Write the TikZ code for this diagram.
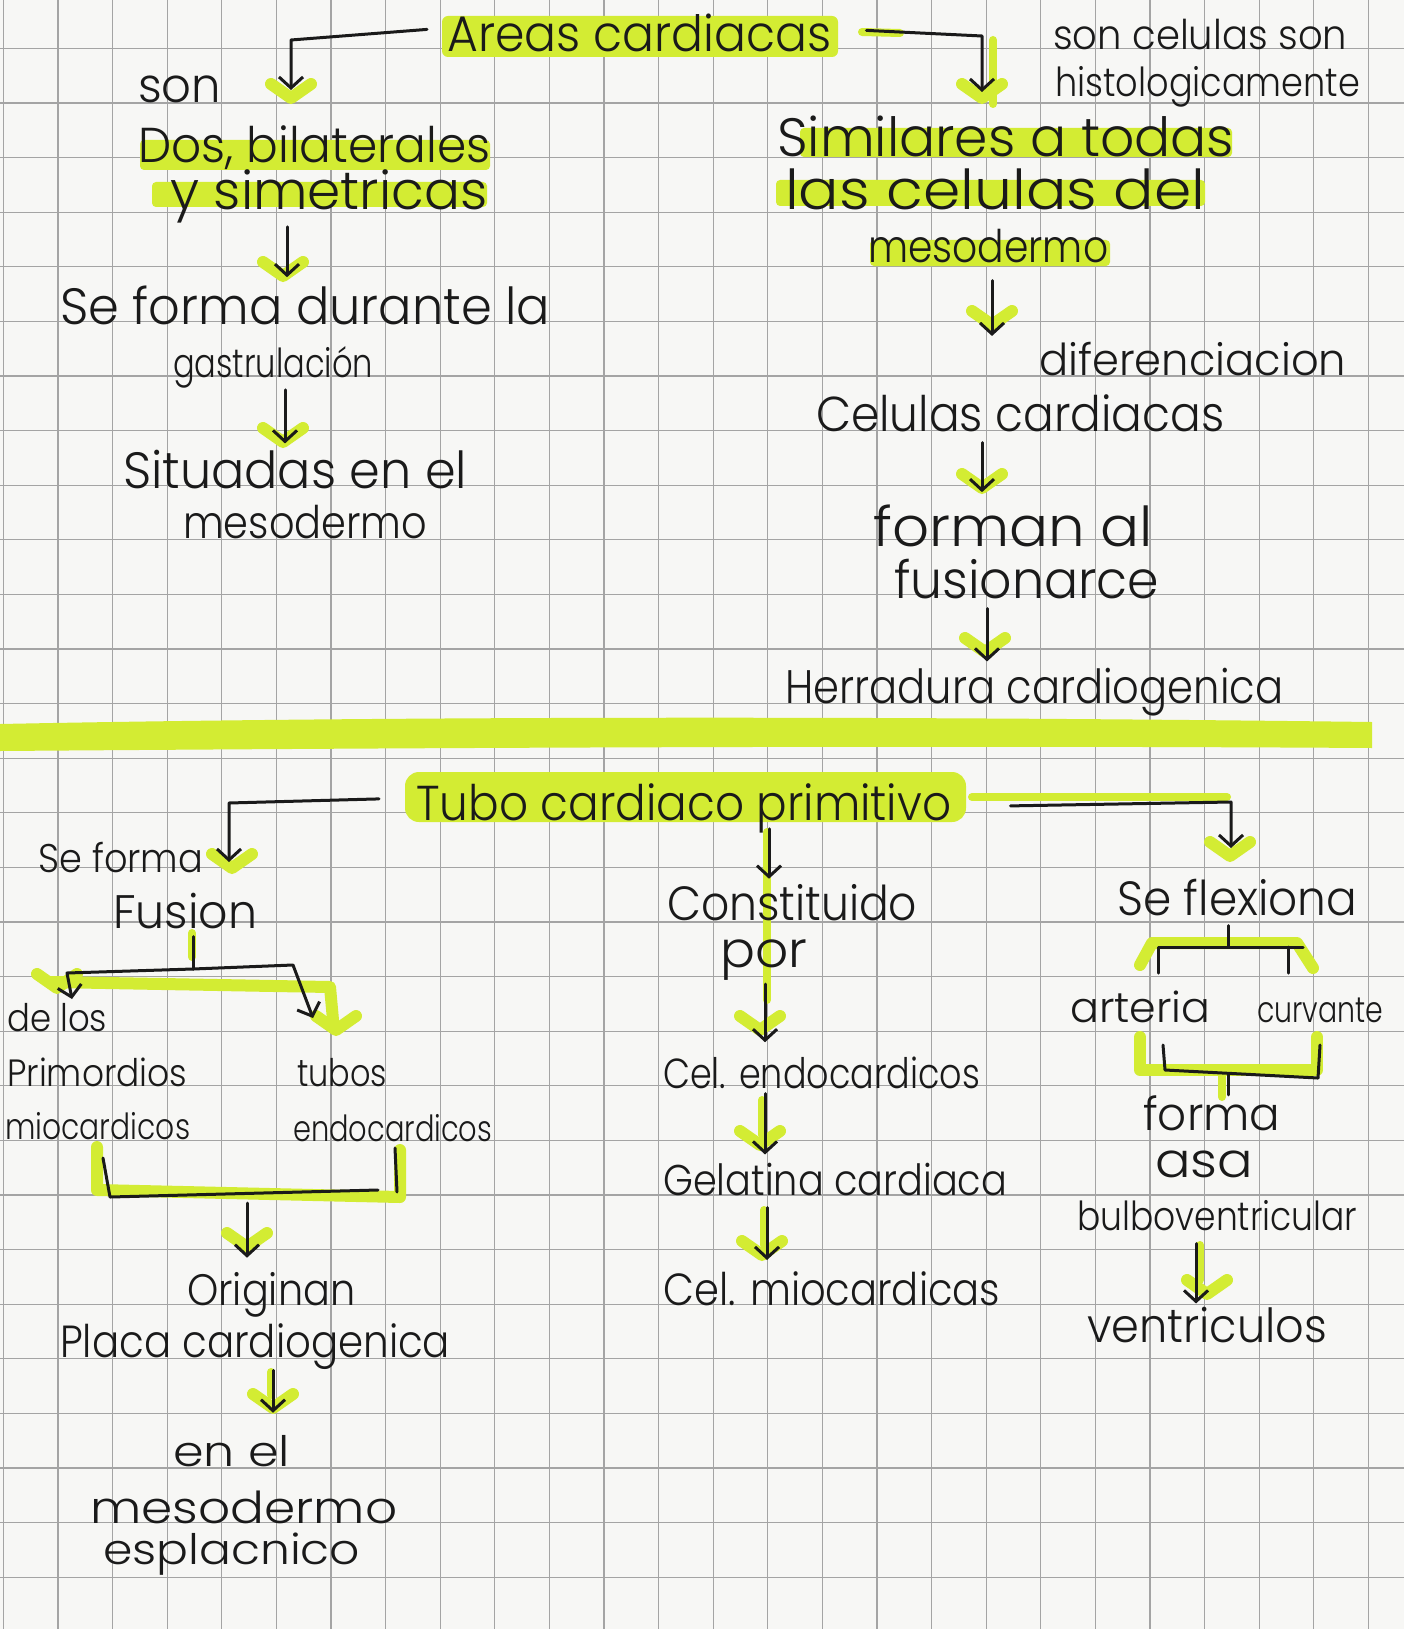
\documentclass[tikz,border=0pt]{standalone}
\usepackage{graphicx}
\usepackage{fontspec}
\IfFontExistsTF{Poppins Light}{\setmainfont{Poppins Light}}{\setmainfont{Poppins}}
\usetikzlibrary{arrows.meta}
\definecolor{hlc}{HTML}{D3EC33}
\definecolor{ink}{HTML}{1A1A1A}
\definecolor{gridc}{HTML}{A4A4A4}
\definecolor{paper}{HTML}{F7F7F5}
\newcommand{\hw}[2]{\resizebox{#1pt}{\height}{#2}}
\newcommand{\gchev}[2]{\draw[hlpen] ({#1-20},{#2-14}) -- (#1,#2) -- ({#1+20},{#2-14});}
\begin{document}
\begin{tikzpicture}[x=1pt,y=-1pt,
  txt/.style={anchor=base west, inner sep=0pt, text=ink, font=\fontsize{50}{60}\selectfont},
  fs/.style={font=\fontsize{#1}{#1}\selectfont},
  gridl/.style={draw=gridc, line width=1.3pt},
  inkline/.style={draw=ink, line width=3pt, line cap=round, line join=round},
  arr/.style={inkline, -{Straight Barb[length=11pt,width=24pt]}},
  hlpen/.style={draw=hlc, line width=12pt, line cap=round, line join=round},
  hlthin/.style={draw=hlc, line width=8pt, line cap=round, line join=round}]
\fill[paper] (0,0) rectangle (1404,1629);
\useasboundingbox (0,0) rectangle (1404,1629);
% grid paper
\foreach \i in {0,...,25} {\draw[gridl] ({3.4+54.6*\i},0) -- ({3.4+54.6*\i},1629);}
\foreach \j in {0,...,29} {\draw[gridl] (0,{48.4+54.6*\j}) -- (1404,{48.4+54.6*\j});}

% highlighter marks
\fill[hlc, rounded corners=6pt] (442,16) rectangle (838,57);
\fill[hlc, rounded corners=4pt] (140,140) rectangle (490,170);
\fill[hlc, rounded corners=4pt] (152,182) rectangle (487,207);
\fill[hlc, rounded corners=4pt] (800,128) rectangle (1232,157);
\fill[hlc, rounded corners=4pt] (776,180) rectangle (1205,206);
\fill[hlc, rounded corners=4pt] (870,240) rectangle (1110,266);
\fill[hlc] (0,724) .. controls (400,716) and (900,716) .. (1372,722) -- (1372,748) .. controls (900,745) and (400,748) .. (0,751) -- cycle;
\fill[hlc, rounded corners=14pt] (405,772) rectangle (966,822);
\draw[hlthin] (862,32) -- (900,33);
\draw[hlthin] (993,40) -- (993,104);
\draw[hlthin] (972,797) -- (1227,797);
\draw[hlthin] (767,832) -- (767,1000);
\draw[hlthin] (192,933) -- (192,957);
\draw[hlpen] (50,982) -- (330,987) -- (333,1020);
\draw[hlpen] (97,1147) -- (97,1190) -- (400,1197) -- (400,1150);
\draw[hlthin] (271,1372) -- (271,1395);
\draw[hlthin] (762,1100) -- (762,1135);
\draw[hlthin] (764,1210) -- (764,1245);
\draw[hlpen] (1140,965) -- (1152,943) -- (1297,943) -- (1313,968);
\draw[hlpen] (1140,1037) -- (1140,1070) -- (1317,1070) -- (1317,1037);
\draw[hlthin] (1222,1072) -- (1222,1097);
\draw[hlthin] (1200,1245) -- (1200,1280);
\gchev{291}{98}
\gchev{982}{98}
\gchev{283}{276}
\gchev{283}{442}
\gchev{992}{325}
\gchev{982}{488}
\gchev{985}{652}
\gchev{232}{868}
\gchev{1230}{856}
\gchev{57}{988}
\gchev{336}{1030}
\gchev{247}{1247}
\gchev{273}{1408}
\gchev{760}{1030}
\gchev{760}{1145}
\gchev{762}{1255}
\gchev{1207}{1294}

% texts
\node[txt, fs=50] (title) at (447,52) {\hw{384}{Areas cardiacas}};
\node[txt, fs=41] (sonc) at (1053,50) {\hw{294}{son celulas son}};
\node[txt, fs=40] (histo) at (1055,97) {\hw{305}{histologicamente}};
\node[txt, fs=48] (son) at (138,103) {\hw{83}{son}};
\node[txt, fs=49] (dos) at (138,163) {\hw{352}{Dos, bilaterales}};
\node[txt, fs=53] (sim) at (170,210) {\hw{317}{y simetricas}};
\node[txt, fs=51] (sef) at (60,324) {\hw{490}{Se forma durante la}};
\node[txt, fs=40] (gas) at (173,377) {\hw{200}{gastrulación}};
\node[txt, fs=51] (sit) at (123,488) {\hw{344}{Situadas en el}};
\node[txt, fs=45] (mesa) at (183,538) {\hw{244}{mesodermo}};
\node[txt, fs=54] (simi) at (777,157) {\hw{457}{Similares a todas}};
\node[txt, fs=55] (las) at (785,210) {\hw{420}{las celulas del}};
\node[txt, fs=45] (mesb) at (868,262) {\hw{240}{mesodermo}};
\node[txt, fs=44] (dif) at (1039,375) {\hw{307}{diferenciacion}};
\node[txt, fs=49] (cel) at (816,431) {\hw{408}{Celulas cardiacas}};
\node[txt, fs=55] (forman) at (873,546) {\hw{280}{forman al}};
\node[txt, fs=52] (fus) at (894,598) {\hw{265}{fusionarce}};
\node[txt, fs=47] (her) at (785,703) {\hw{498}{Herradura cardiogenica}};
\node[txt, fs=49] (tubo) at (416,820) {\hw{535}{Tubo cardiaco primitivo}};
\node[txt, fs=40] (sefb) at (38,872) {\hw{165}{Se forma}};
\node[txt, fs=47] (fusion) at (113,928) {\hw{144}{Fusion}};
\node[txt, fs=38] (delos) at (7,1031) {\hw{100}{de los}};
\node[txt, fs=38] (prim) at (7,1086) {\hw{180}{Primordios}};
\node[txt, fs=36] (mioc) at (5,1139) {\hw{185}{miocardicos}};
\node[txt, fs=38] (tubos) at (297,1086) {\hw{90}{tubos}};
\node[txt, fs=36] (endo) at (293,1141) {\hw{199}{endocardicos}};
\node[txt, fs=44] (orig) at (187,1305) {\hw{168}{Originan}};
\node[txt, fs=45] (placa) at (60,1357) {\hw{390}{Placa cardiogenica}};
\node[txt, fs=42] (enel) at (173,1466) {\hw{117}{en el}};
\node[txt, fs=44] (mesc) at (90,1523) {\hw{307}{mesodermo}};
\node[txt, fs=42] (espl) at (103,1564) {\hw{257}{esplacnico}};
\node[txt, fs=48] (const) at (667,920) {\hw{250}{Constituido}};
\node[txt, fs=50] (por) at (720,967) {\hw{87}{por}};
\node[txt, fs=42] (cend) at (663,1088) {\hw{317}{Cel. endocardicos}};
\node[txt, fs=43] (gel) at (663,1195) {\hw{344}{Gelatina cardiaca}};
\node[txt, fs=45] (cmio) at (663,1305) {\hw{337}{Cel. miocardicas}};
\node[txt, fs=48] (sefl) at (1117,915) {\hw{240}{Se flexiona}};
\node[txt, fs=42] (art) at (1070,1022) {\hw{140}{arteria}};
\node[txt, fs=36] (curv) at (1257,1022) {\hw{126}{curvante}};
\node[txt, fs=46] (forma) at (1143,1130) {\hw{137}{forma}};
\node[txt, fs=48] (asa) at (1155,1177) {\hw{98}{asa}};
\node[txt, fs=40] (bulbo) at (1077,1230) {\hw{280}{bulboventricular}};
\node[txt, fs=47] (vent) at (1087,1342) {\hw{240}{ventriculos}};

% connectors
\coordinate (c1) at (291,90);
\coordinate (c2) at (982,92);
\draw[arr] ([xshift=-20pt,yshift=4pt]title.west) -- (291,40) -- (c1);
\draw[arr] ([xshift=35pt,yshift=3pt]title.east) -- (982,36) -- (c2);
\draw[arr, shorten <=3pt, shorten >=8pt] (sim.south -| 287,0) -- (sef.north -| 287,0);
\draw[arr, shorten <=2pt, shorten >=6pt] (gas.south -| 285,0) -- (sit.north -| 285,0);
\draw[arr, shorten <=18pt, shorten >=58pt] (mesb.south -| 992,0) -- (cel.north -| 992,0);
\draw[arr, shorten <=11pt, shorten >=12pt] (cel.south -| 982,0) -- (forman.north -| 982,0);
\draw[arr, shorten <=10pt, shorten >=6pt] (fus.south -| 987,0) -- (her.north -| 987,0);

\coordinate (c3) at (229,862);
\coordinate (c4) at (1231,848);
\draw[arr] ([xshift=-37pt,yshift=9pt]tubo.west) -- (229,803) -- (c3);
\draw[arr, shorten <=-4pt, shorten >=5pt] (tubo.south -| 769,0) -- (const.north -| 769,0);
\draw[arr] ([xshift=59pt,yshift=2pt]tubo.east) -- (1231,802) -- (c4);

\coordinate (fj) at (193,969);
\draw[inkline, shorten <=8pt] (fusion.south -| 193,0) -- (fj);
\draw[arr] (fj) -- (67,973) -- (72,999);
\draw[arr] (fj) -- (293,965) -- (313,1018);
\draw[inkline] (103,1158) -- (110,1197) -- (378,1190);
\draw[inkline] (395,1148) -- (397,1192);
\coordinate (bj) at (247,1203);
\draw[arr, shorten >=14pt] (bj) -- (orig.north -| 247,0);
\draw[arr, shorten <=1pt, shorten >=22pt] (placa.south -| 273,0) -- (enel.north -| 273,0);

\draw[arr, shorten <=4pt, shorten >=14pt] (por.south -| 765,0) -- (cend.north -| 765,0);
\draw[arr, shorten <=5pt, shorten >=8pt] (cend.south -| 765,0) -- (gel.north -| 765,0);
\draw[arr, shorten <=12pt, shorten >=11pt] (gel.south -| 767,0) -- (cmio.north -| 767,0);

\coordinate (rj) at (1228,947);
\draw[inkline, shorten <=10pt] (sefl.south -| 1228,0) -- (rj);
\draw[inkline] (1158,973) -- (1158,947) -- (1303,947);
\draw[inkline] (1288,947) -- (1288,973);
\draw[inkline] (1163,1045) -- (1165,1070) -- (1318,1078);
\draw[inkline] (1320,1045) -- (1318,1078);
\draw[inkline] (1228,1075) -- (forma.north -| 1228,0);
\draw[arr, shorten <=13pt, shorten >=3pt] (bulbo.south -| 1196,0) -- (vent.north -| 1196,0);
\end{tikzpicture}
\end{document}
